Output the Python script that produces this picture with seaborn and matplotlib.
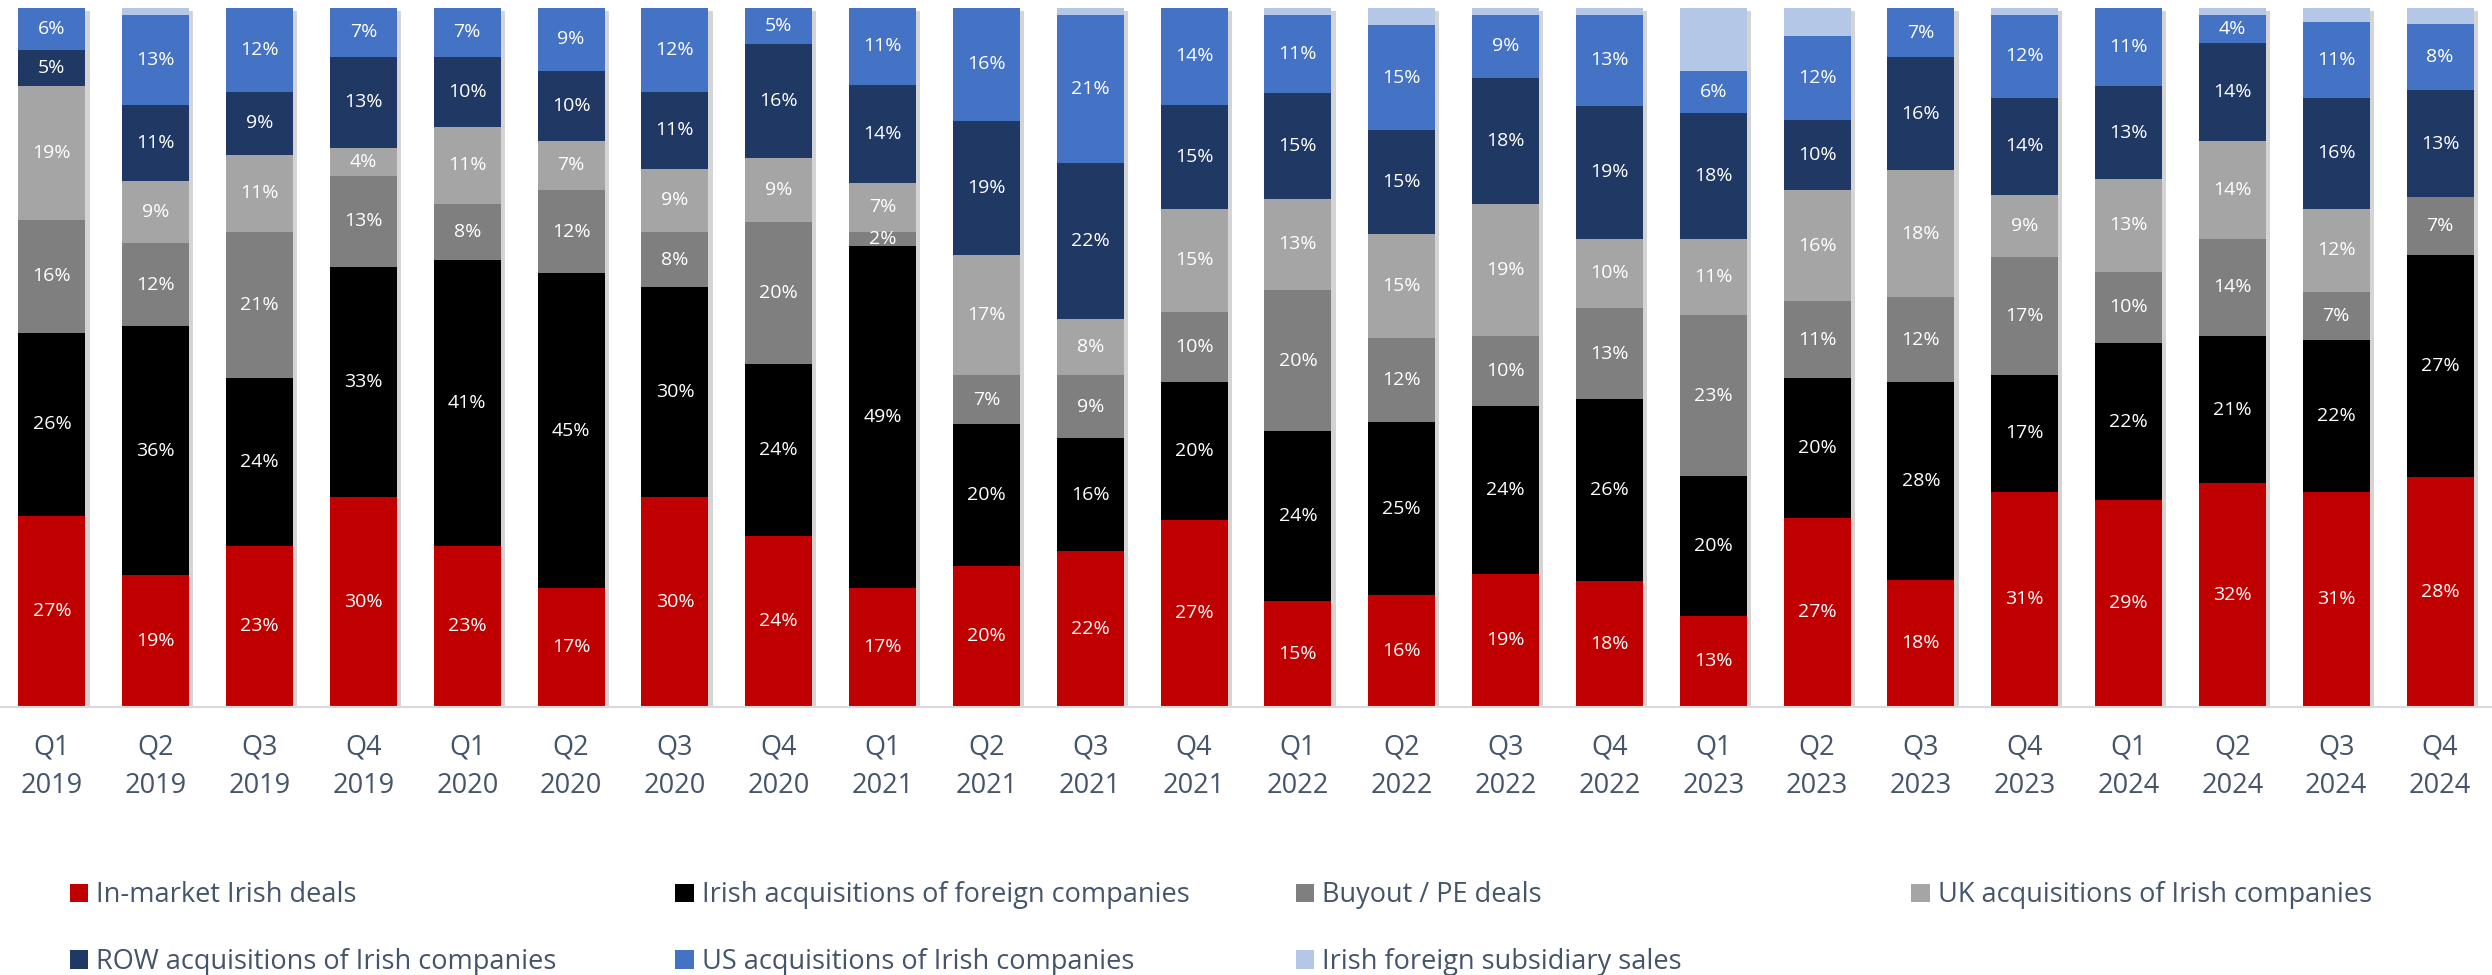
import numpy as np
import pandas as pd
import matplotlib.pyplot as plt
import matplotlib.patheffects as pe
from matplotlib.patches import Patch
import seaborn as sb

# quarters on the x axis
quarters = ['Q1\n2019', 'Q2\n2019', 'Q3\n2019', 'Q4\n2019',
            'Q1\n2020', 'Q2\n2020', 'Q3\n2020', 'Q4\n2020',
            'Q1\n2021', 'Q2\n2021', 'Q3\n2021', 'Q4\n2021',
            'Q1\n2022', 'Q2\n2022', 'Q3\n2022', 'Q4\n2022',
            'Q1\n2023', 'Q2\n2023', 'Q3\n2023', 'Q4\n2023',
            'Q1\n2024', 'Q2\n2024', 'Q3\n2024', 'Q4\n2024']

# share of deals per category (%), bottom to top of each bar
in_market = [27, 19, 23, 30, 23, 17, 30, 24, 17, 20, 22, 27, 15, 16, 19, 18, 13, 27, 18, 31, 29, 32, 31, 28]
irish_acq_foreign = [26, 36, 24, 33, 41, 45, 30, 24, 49, 20, 16, 20, 24, 25, 24, 26, 20, 20, 28, 17, 22, 21, 22, 27]
buyout_pe = [16, 12, 21, 13, 8, 12, 8, 20, 2, 7, 9, 10, 20, 12, 10, 13, 23, 11, 12, 17, 10, 14, 7, 7]
uk_acq = [19, 9, 11, 4, 11, 7, 9, 9, 7, 17, 8, 15, 13, 15, 19, 10, 11, 16, 18, 9, 13, 14, 12, 0]
row_acq = [5, 11, 9, 13, 10, 10, 11, 16, 14, 19, 22, 15, 15, 15, 18, 19, 18, 10, 16, 14, 13, 14, 16, 13]
us_acq = [6, 13, 12, 7, 7, 9, 12, 5, 11, 16, 21, 14, 11, 15, 9, 13, 6, 12, 7, 12, 11, 4, 11, 8]
# unlabelled top segment, estimated from its height
subsidiary = [0, 1, 0, 0, 0, 0, 0, 0, 0, 0, 1, 0, 1, 2.5, 1, 1, 9, 4, 0, 1, 0, 1, 2, 2]

categories = ['In-market Irish deals', 'Irish acquisitions of foreign companies',
              'Buyout / PE deals', 'UK acquisitions of Irish companies',
              'ROW acquisitions of Irish companies', 'US acquisitions of Irish companies',
              'Irish foreign subsidiary sales']
colors = ['#C00000', '#000000', '#7F7F7F', '#A5A5A5', '#203864', '#4472C4', '#B4C7E7']
show_labels = [True, True, True, True, True, True, False]

df = pd.DataFrame(dict(zip(categories, [in_market, irish_acq_foreign, buyout_pe, uk_acq,
                                        row_acq, us_acq, subsidiary])), index=quarters)
# 100% stacked: each bar is scaled to its own total
share = df.div(df.sum(axis=1), axis=0)
cum = share.cumsum(axis=1)

sb.set_style('white')
plt.rcParams['font.family'] = ['Open Sans', 'DejaVu Sans']
txt_col = '#44546A'

fig = plt.figure(figsize=(24.92, 9.75), dpi=100)
ax = fig.add_axes([0.0, 0.2752, 1.0, 0.7166])

# draw cumulative layers from the top one down, each covering the previous
for k in range(len(categories) - 1, -1, -1):
    sb.barplot(x=quarters, y=cum[categories[k]].values, color=colors[k],
               width=0.645, saturation=1, errorbar=None, ax=ax, linewidth=0)
    if k == len(categories) - 1:
        for p in ax.patches:
            p.set_path_effects([pe.SimplePatchShadow(offset=(3, -2), shadow_rgbFace='black', alpha=0.17),
                                pe.Normal()])

# value labels in the middle of each segment
for k, cat in enumerate(categories):
    if not show_labels[k]:
        continue
    for i, q in enumerate(quarters):
        v = df.loc[q, cat]
        if v <= 0:
            continue
        y = cum.loc[q, cat] - share.loc[q, cat] / 2
        ax.text(i, y, f'{v:.0f}%', ha='center', va='center', color='white', fontsize=14)

ax.set_xlim(-0.5, len(quarters) - 0.5)
ax.set_ylim(0, 1)
ax.set_yticks([])
ax.set_xlabel('')
ax.set_ylabel('')
for s in ['left', 'right', 'top']:
    ax.spines[s].set_visible(False)
ax.spines['bottom'].set_color('#D9D9D9')
ax.spines['bottom'].set_linewidth(1.5)
ax.tick_params(axis='x', length=0, pad=19, labelsize=19.5, labelcolor=txt_col)
for t in ax.get_xticklabels():
    t.set_linespacing(1.5)

# legend laid out in four fixed columns, filled row by row
handles = [Patch(facecolor=c, edgecolor='none') for c in colors]
col_x = [0.028, 0.271, 0.520, 0.767]
col_items = [[0, 4], [1, 5], [2, 6], [3]]
for x, items in zip(col_x, col_items):
    fig.legend([handles[j] for j in items], [categories[j] for j in items],
               loc='upper left', bbox_to_anchor=(x, 0.096), frameon=False,
               fontsize=19.5, labelcolor=txt_col, handlelength=0.68, handleheight=0.68,
               handletextpad=0.3, labelspacing=1.42, borderpad=0, borderaxespad=0)

plt.savefig('out.png', dpi=100)
